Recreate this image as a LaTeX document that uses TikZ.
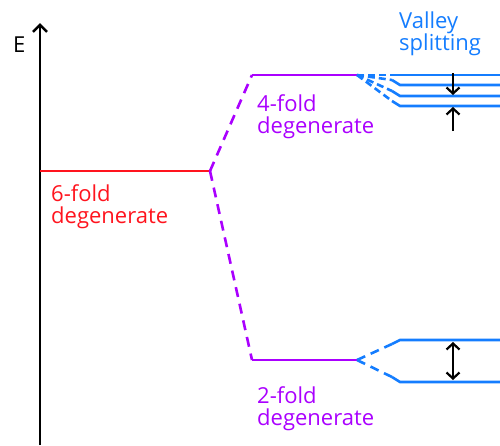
\documentclass[tikz,border=0pt]{standalone}
\usepackage{fontspec}
\setmainfont{Open Sans}
\usetikzlibrary{arrows.meta,positioning}
\definecolor{sixred}{RGB}{255,20,30}
\definecolor{levpurple}{RGB}{170,0,255}
\definecolor{valblue}{RGB}{20,125,255}
\tikzset{
    level/.style={line width=2.6pt},
    splitline/.style={line width=2.6pt, dash pattern=on 10pt off 7pt},
    valleysplit/.style={line width=2.6pt, valblue, dash pattern=on 7pt off 4pt},
    lbl/.style={anchor=base west, inner sep=0pt, align=left, font=\fontsize{22}{22}\selectfont},
    gap/.style={line width=2.2pt, -{Straight Barb[length=6pt,width=13pt]}}
}
\begin{document}
\begin{tikzpicture}[x=1pt,y=-1pt]
    \useasboundingbox (0,0) rectangle (500,445);

    % energy axis
    \coordinate (ax0) at (40,445);
    \coordinate (ax1) at (40,23);
    \draw[line width=2.6pt, -{Straight Barb[length=7pt,width=14pt]}] (ax0) -- (ax1);
    \node[lbl] (E) at (13,52) {E};

    % 6-fold level
    \coordinate (r0) at (40,171);
    \coordinate (r1) at (210,171);
    \draw[level, sixred] (r0) -- (r1);
    \node[lbl, text=sixred] (six) at (51,223) {6-fold\\degenerate};

    % 4-fold and 2-fold levels
    \coordinate (p1) at (252,75);
    \coordinate (p2) at (357,75);
    \coordinate (q1) at (252,360);
    \coordinate (q2) at (357,360);
    \draw[splitline, levpurple] (r1) -- (p1);
    \draw[splitline, levpurple] (r1) -- (q1);
    \draw[level, levpurple] (p1) -- (p2);
    \draw[level, levpurple] (q1) -- (q2);
    \node[lbl, text=levpurple] (four) at (257,133) {4-fold\\degenerate};
    \node[lbl, text=levpurple] (two) at (257,425) {2-fold\\degenerate};

    % valley split of the 4-fold level
    \foreach \i/\a/\b in {1/75/75, 2/80/85, 3/91/96, 4/101/106} {
        \coordinate (k\i) at (392,\a);
        \coordinate (m\i) at (400,\b);
        \coordinate (e\i) at (500,\b);
        \draw[valleysplit] (p2) -- (k\i);
        \draw[level, valblue] (k\i) -- (m\i) -- (e\i);
    }

    % valley split of the 2-fold level
    \coordinate (ka) at (392,344);
    \coordinate (kb) at (392,377);
    \coordinate (ma) at (400,340);
    \coordinate (mb) at (400,382);
    \coordinate (ea) at (500,340);
    \coordinate (eb) at (500,382);
    \draw[valleysplit, dash pattern=on 9pt off 6pt] (q2) -- (ka);
    \draw[valleysplit, dash pattern=on 9pt off 6pt] (q2) -- (kb);
    \draw[level, valblue] (ka) -- (ma) -- (ea);
    \draw[level, valblue] (kb) -- (mb) -- (eb);

    \node[lbl, text=valblue] (vs) at (399,50) {Valley\\splitting};

    % splitting arrows
    \coordinate (d0) at (453,73);
    \coordinate (d1) at (453,95);
    \coordinate (u0) at (453,131);
    \coordinate (u1) at (453,107);
    \coordinate (b0) at (453,342);
    \coordinate (b1) at (453,380);
    \draw[gap] (d0) -- (d1);
    \draw[gap] (u0) -- (u1);
    \draw[gap, {Straight Barb[length=6pt,width=13pt]}-{Straight Barb[length=6pt,width=13pt]}] (b0) -- (b1);
\end{tikzpicture}
\end{document}
